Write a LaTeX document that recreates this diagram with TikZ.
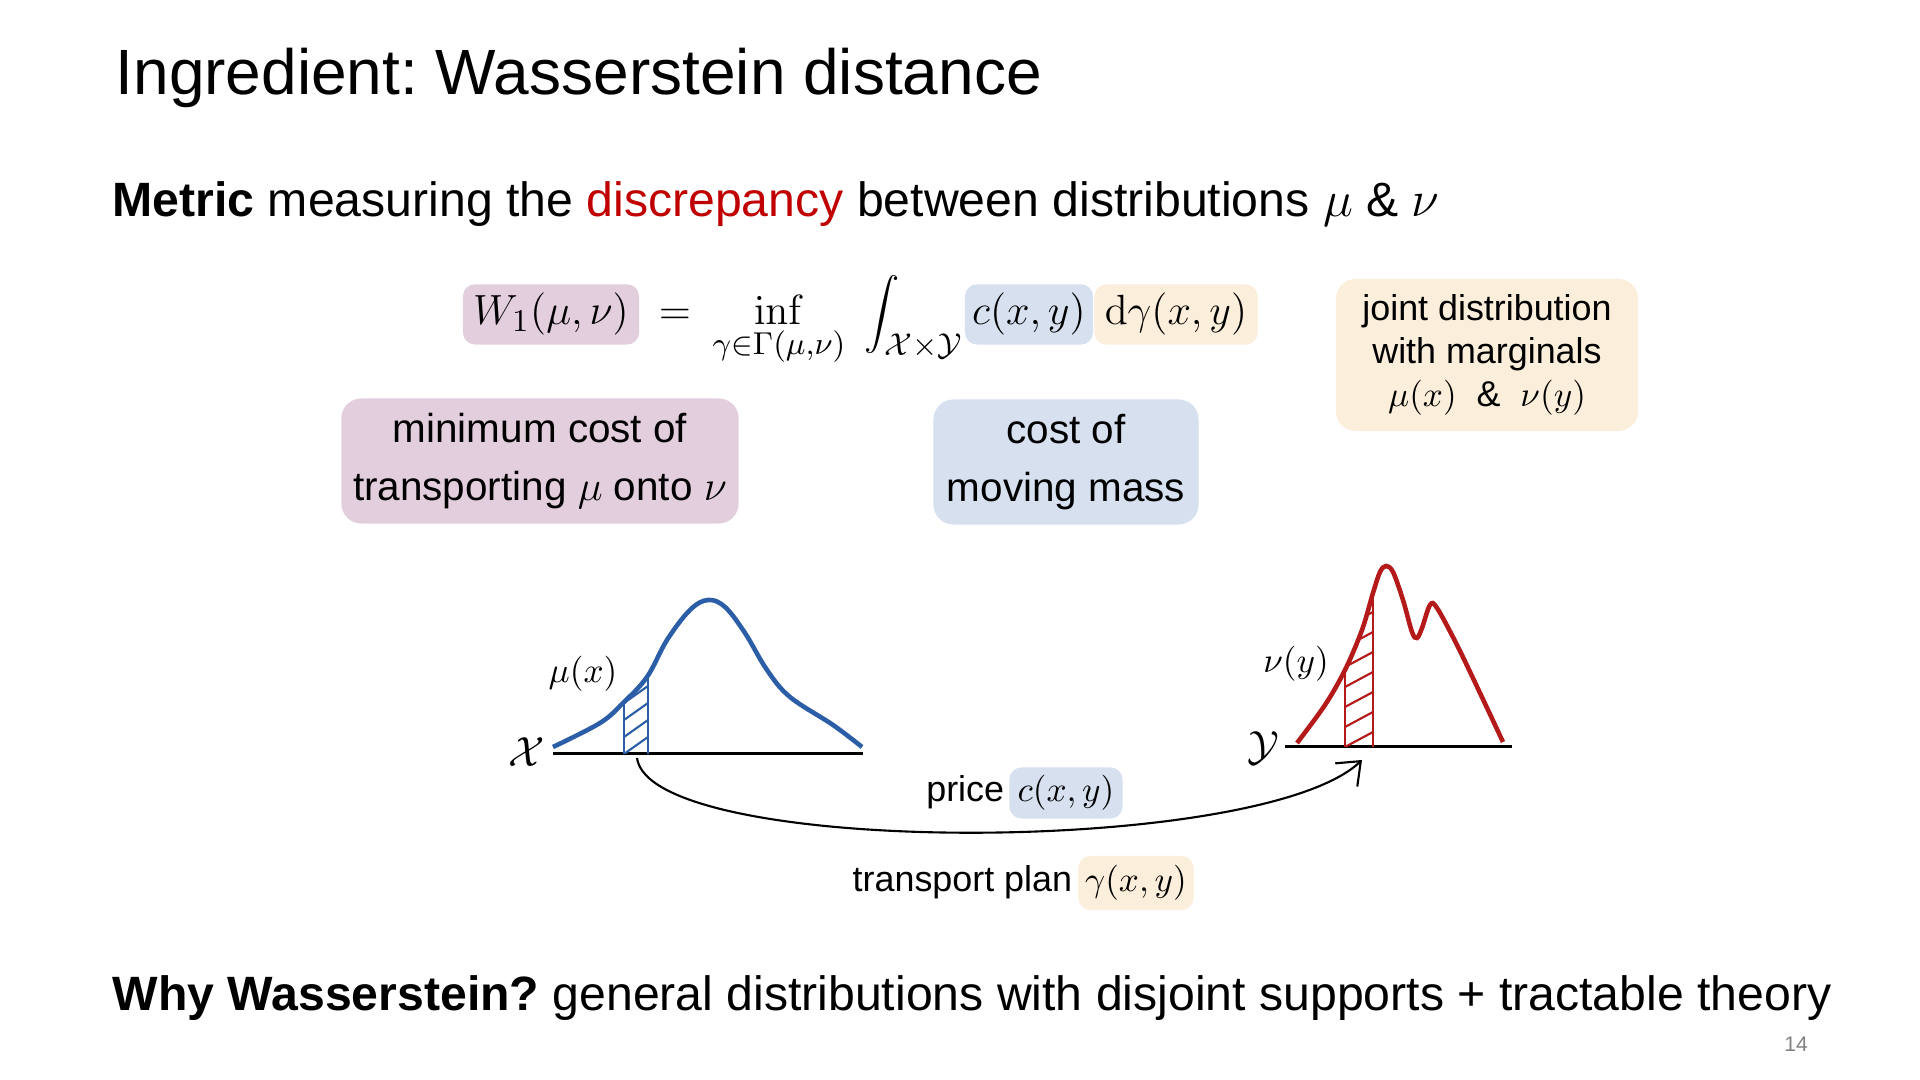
\documentclass[tikz,border=0pt]{standalone}
\usepackage[no-math]{fontspec}
\setmainfont{Liberation Sans}
\frenchspacing
\usetikzlibrary{positioning,arrows.meta}

\definecolor{boxpink}{HTML}{E3CEDE}
\definecolor{boxblue}{HTML}{D6E0EF}
\definecolor{boxsand}{HTML}{FBEEDA}
\definecolor{curveblue}{HTML}{2B5EA7}
\definecolor{curvered}{HTML}{B51A1A}
\definecolor{discred}{HTML}{C00000}

\begin{document}
\begin{tikzpicture}[x=0.01cm,y=-0.01cm]
	\tikzstyle{hl}=[rounded corners=0.12cm, inner xsep=0.05cm, inner ysep=0.09cm, font=\fontsize{13}{16}\selectfont]
	\tikzstyle{eq}=[anchor=base, inner sep=0pt, font=\fontsize{13}{16}\selectfont]
	\tikzstyle{note}=[rounded corners=0.2cm, align=center, font=\fontsize{11.5}{16.4}\selectfont]
	\tikzstyle{line}=[anchor=base west, inner sep=0pt, font=\fontsize{13.7}{16}\selectfont]
	\tikzstyle{small}=[font=\fontsize{10.2}{12.2}\selectfont]
	\tikzstyle{space}=[font=\fontsize{13}{15}\selectfont]
	\tikzstyle{axis}=[line width=0.85pt, black]
	\fill[white] (0,0) rectangle (1920,1080);
	\useasboundingbox (0,0) rectangle (1920,1080);

	% heading
	\node[anchor=base west, inner sep=0pt, font=\fontsize{18.2}{22}\selectfont] (title) at (115,95) {Ingredient: Wasserstein distance};
	\node[line] (metric) at (112,217) {\textbf{Metric} measuring the \textcolor{discred}{discrepancy} between distributions $\mu$ \& $\nu$};

	% formula
	\node[hl, fill=boxpink, anchor=base, minimum width=1.76cm] (wdist) at (551,325) {$W_1(\mu,\nu)$};
	\node[eq] (equals) at (675,325) {$=$};
	\node[eq] (infimum) at (779,325) {$\displaystyle\inf_{\gamma\in\Gamma(\mu,\nu)}$};
	\node[eq, anchor=base west] (integral) at (864,325) {$\displaystyle\int_{\mathcal{X}\times\mathcal{Y}}$};
	\node[hl, fill=boxblue, anchor=base, minimum width=1.28cm] (cost) at (1029,325) {$c(x,y)$};
	\node[hl, fill=boxsand, anchor=base, minimum width=1.63cm] (dplan) at (1176,325) {$\mathrm{d}\gamma(x,y)$};

	% notes
	\node[note, fill=boxpink, minimum width=3.91cm, minimum height=1.25cm] (mincost) at (540,461) {minimum cost of\\transporting $\mu$ onto $\nu$};
	\node[note, fill=boxblue, minimum width=2.65cm, minimum height=1.25cm] (moving) at (1066,462) {cost of\\moving mass};
	\node[note, small, fill=boxsand, minimum width=3.02cm, minimum height=1.52cm] (joint) at (1487,355) {joint distribution\\with marginals\\$\mu(x)$ \ \& \ $\nu(y)$};

	% source distribution
	\draw[axis] (553,754) -- (863,754);
	\node[space] (xspace) at (527,752) {$\mathcal{X}$};
	\node[small] (mulabel) at (583,674) {$\mu(x)$};
	\draw[curveblue, line width=1.3pt] plot[smooth, tension=0.6] coordinates {(553,747) (600,723) (623,703) (647,677) (667,640) (690,610) (708,600) (725,607) (745,633) (767,670) (790,697) (833,725) (862,747)};
	\begin{scope}
		\clip (624,754) -- (624,702) -- (636,690) -- (648,675) -- (648,754) -- cycle;
		\foreach \y in {754,737,...,680}
			\draw[curveblue, line width=0.6pt] (624,\y) -- (648,\y-17);
	\end{scope}
	\draw[curveblue, line width=0.8pt] (624,754) -- (624,702) (648,754) -- (648,675);

	% target distribution
	\draw[axis] (1285,747) -- (1512,747);
	\node[space] (yspace) at (1263,748) {$\mathcal{Y}$};
	\node[small] (nulabel) at (1296,664) {$\nu(y)$};
	\draw[curvered, line width=1.3pt] plot[smooth, tension=0.55] coordinates {(1297,743) (1325,705) (1345,670) (1362,630) (1373,593) (1380,572) (1386,566) (1393,572) (1403,600) (1412,632) (1417,638) (1422,628) (1430,605) (1437,608) (1457,645) (1480,693) (1503,742)};
	\begin{scope}
		\clip (1345,747) -- (1345,670) -- (1359,632) -- (1373,593) -- (1373,747) -- cycle;
		\foreach \y in {747,727,...,580}
			\draw[curvered, line width=0.6pt] (1345,\y) -- (1373,\y-15);
	\end{scope}
	\draw[curvered, line width=0.8pt] (1345,747) -- (1345,670) (1373,747) -- (1373,593);

	% transport
	\coordinate (src) at (637,758);
	\coordinate (dst) at (1362,760);
	\draw[line width=0.6pt, -{Straight Barb[length=2mm,width=3.2mm]}] (src) .. controls (650,857) and (1260,857) .. (dst);
	\node[hl, small, fill=boxblue, minimum width=1.13cm, minimum height=0.51cm, inner ysep=0.02cm] (price) at (1066,793) {$c(x,y)$};
	\node[anchor=base east, inner sep=0pt, small] (pricetext) at ([xshift=-0.04cm]price.base west) {price};
	\node[hl, small, fill=boxsand, minimum width=1.15cm, minimum height=0.54cm, inner ysep=0.02cm] (plan) at (1136,883) {$\gamma(x,y)$};
	\node[anchor=base east, inner sep=0pt, small] (plantext) at ([xshift=-0.05cm]plan.base west) {transport plan};

	% footer
	\node[line] (why) at (112,1011) {\textbf{Why Wasserstein?} general distributions with disjoint supports + tractable theory};
	\node[font=\fontsize{6}{7}\selectfont, text=gray] (pagenum) at (1796,1044) {14};
\end{tikzpicture}
\end{document}
